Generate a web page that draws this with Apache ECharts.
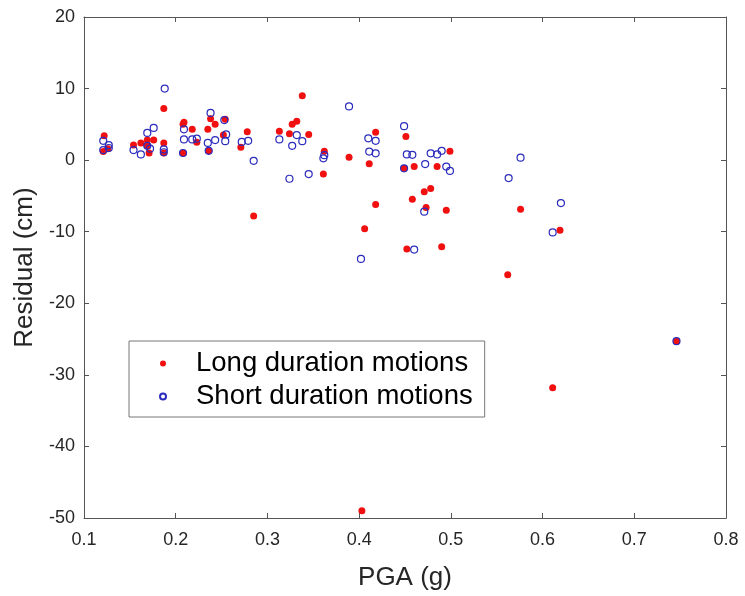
<!DOCTYPE html>
<html>
<head>
<meta charset="utf-8">
<script src="https://cdn.jsdelivr.net/npm/echarts@6/dist/echarts.min.js"></script>
<style>html,body{margin:0;padding:0;background:#fff}#c{width:745px;height:596px}</style>
</head>
<body>
<div id="c"></div>
<script>
// Long duration motions: [PGA (g), Residual (cm)]
var longDuration = [
  [0.122, 3.4], [0.121, 1.2], [0.126, 1.6], [0.154, 2.1], [0.162, 2.4], [0.169, 2.8],
  [0.171, 1.0], [0.176, 2.8], [0.169, 2.0], [0.187, 7.2], [0.187, 2.4], [0.187, 1.0],
  [0.209, 5.3], [0.208, 5.0], [0.218, 4.3], [0.223, 2.5], [0.208, 1.0], [0.235, 4.3],
  [0.238, 5.8], [0.243, 5.0], [0.236, 1.3], [0.254, 5.7], [0.252, 3.5], [0.271, 1.8],
  [0.278, 3.95], [0.285, -7.8], [0.313, 4.05], [0.324, 3.7], [0.327, 5.0], [0.332, 5.45],
  [0.338, 9.0], [0.345, 3.6], [0.362, 1.25], [0.361, -1.95], [0.389, 0.4], [0.418, 3.9],
  [0.411, -0.5], [0.418, -6.2], [0.406, -9.6], [0.403, -49.0], [0.451, 3.3], [0.449, -1.15],
  [0.460, -0.9], [0.458, -5.45], [0.452, -12.4], [0.471, -4.4], [0.478, -3.95], [0.473, -6.6],
  [0.485, -0.9], [0.499, 1.25], [0.495, -7.0], [0.490, -12.1], [0.562, -16.0], [0.576, -6.85],
  [0.611, -31.8], [0.619, -9.8], [0.746, -25.3]
];
// Short duration motions: [PGA (g), Residual (cm)]
var shortDuration = [
  [0.121, 2.7], [0.121, 1.4], [0.127, 2.1], [0.127, 1.7], [0.154, 1.4], [0.162, 0.8],
  [0.169, 3.8], [0.176, 4.5], [0.172, 1.6], [0.169, 2.0], [0.188, 10.0], [0.187, 1.5],
  [0.187, 1.1], [0.209, 4.3], [0.209, 2.9], [0.218, 2.9], [0.223, 3.0], [0.208, 1.0],
  [0.238, 6.6], [0.235, 2.4], [0.243, 2.8], [0.236, 1.3], [0.253, 5.6], [0.255, 3.6],
  [0.254, 2.65], [0.272, 2.55], [0.279, 2.7], [0.285, -0.1], [0.313, 2.9], [0.332, 3.5],
  [0.327, 2.0], [0.338, 2.65], [0.324, -2.6], [0.345, -1.95], [0.362, 0.7], [0.361, 0.25],
  [0.389, 7.5], [0.410, 3.05], [0.418, 2.7], [0.411, 1.2], [0.418, 0.95], [0.402, -13.8],
  [0.449, 4.75], [0.452, 0.8], [0.458, 0.75], [0.449, -1.15], [0.478, 0.95], [0.485, 0.8],
  [0.490, 1.3], [0.472, -0.55], [0.495, -0.9], [0.499, -1.5], [0.471, -7.2], [0.460, -12.5],
  [0.563, -2.5], [0.576, 0.35], [0.611, -10.1], [0.620, -6.0], [0.746, -25.3]
];
var seriesNames = ['Long duration motions', 'Short duration motions'];
var xAxisTitle = 'PGA (g)';
var yAxisTitle = 'Residual (cm)';

var FONT = '"Liberation Sans", Arial, sans-serif';
var axisColor = '#555555';
var labelColor = '#262626';

var chart = echarts.init(document.getElementById('c'), null, {renderer: 'canvas'});

function mkAxis(isX, show) {
  return {
    type: 'value',
    min: isX ? 0.1 : -50,
    max: isX ? 0.8 : 20,
    interval: isX ? 0.1 : 10,
    position: isX ? (show ? 'bottom' : 'top') : (show ? 'left' : 'right'),
    name: show ? (isX ? xAxisTitle : yAxisTitle) : '',
    nameLocation: 'middle',
    nameGap: isX ? 47 : 40,
    nameTextStyle: {fontFamily: FONT, fontSize: 26, color: labelColor},
    axisLine: {show: true, onZero: false, lineStyle: {color: axisColor, width: 1}},
    axisTick: {show: true, inside: true, length: 5, lineStyle: {color: axisColor, width: 1}},
    axisLabel: {
      show: show, margin: isX ? 13 : 9, fontFamily: FONT, fontSize: 18, color: labelColor,
      formatter: function (v) { return isX ? v.toFixed(1) : String(Math.round(v)); }
    },
    splitLine: {show: false}
  };
}

chart.setOption({
  animation: false,
  backgroundColor: '#ffffff',
  grid: {left: 84, right: 19, top: 17, bottom: 75, containLabel: false},
  xAxis: [mkAxis(true, true), mkAxis(true, false)],
  yAxis: [mkAxis(false, true), mkAxis(false, false)],
  legend: {
    orient: 'vertical',
    left: 129, top: 341,
    padding: [6, 12, 4, 30],
    itemGap: 0,
    itemWidth: 6, itemHeight: 6,
    borderColor: '#777777', borderWidth: 1,
    backgroundColor: '#ffffff',
    data: seriesNames,
    textStyle: {fontFamily: FONT, fontSize: 27.5, color: '#000000', lineHeight: 33, padding: [0, 0, 0, 25]}
  },
  series: [
    {
      name: seriesNames[0], type: 'scatter', xAxisIndex: 0, yAxisIndex: 0,
      symbol: 'circle', symbolSize: 7,
      itemStyle: {color: '#f01010', opacity: 1},
      data: longDuration, z: 2
    },
    {
      name: seriesNames[1], type: 'scatter', xAxisIndex: 0, yAxisIndex: 0,
      symbol: 'circle', symbolSize: 7,
      itemStyle: {color: 'rgba(255,255,255,0)', borderColor: '#2b2bbd', borderWidth: 1.2, opacity: 1},
      data: shortDuration, z: 3
    }
  ]
});
</script>
</body>
</html>
